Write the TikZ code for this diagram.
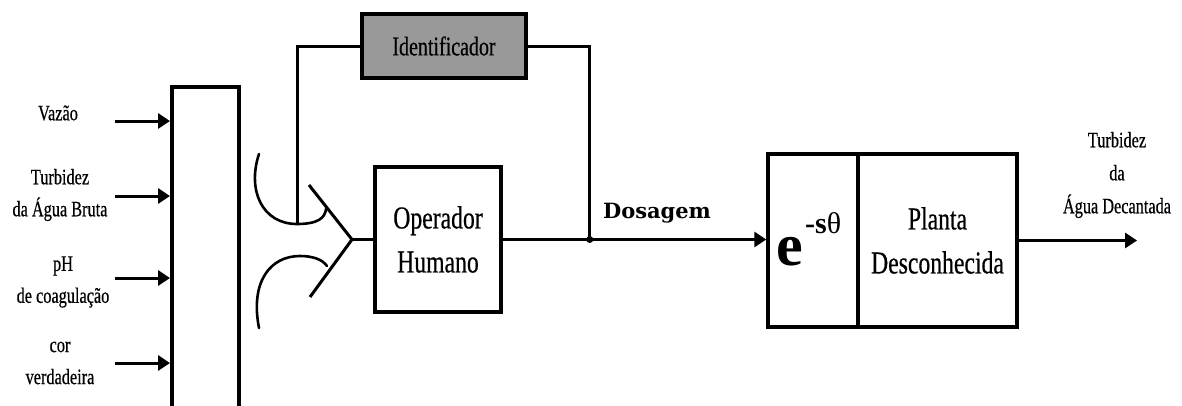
\documentclass[tikz,border=0pt]{standalone}
\usepackage{fontspec}
\setmainfont{Liberation Serif}
\newfontfamily\cnd[FakeStretch=0.74,FakeBold=0.5]{Liberation Serif}
\newfontfamily\dvs{DejaVu Serif}
\usetikzlibrary{arrows.meta}
\definecolor{idgray}{HTML}{999999}

\begin{document}
\begin{tikzpicture}[x=1pt,y=-1pt,
  wire/.style={line width=3pt},
  arr/.style={wire,-{Triangle[length=12pt,width=15pt]}},
  curve/.style={line width=2.6pt,line cap=round},
  blk/.style={draw,line width=3.5pt,inner sep=0pt},
  lbl/.style={font=\cnd\fontsize{22}{32}\selectfont,align=center},
  rlbl/.style={font=\cnd\fontsize{22}{33}\selectfont,align=center},
  big/.style={font=\cnd\fontsize{32}{44}\selectfont,align=center},
]
\useasboundingbox (0,0) rectangle (1182,405);

% input collector (runs past the lower edge)
\node[blk,minimum width=67pt,minimum height=340pt,anchor=north west] (mux) at (170,85) {};

% input signals
\coordinate (s1) at (115,121);
\coordinate (s2) at (115,196);
\coordinate (s3) at (115,278);
\coordinate (s4) at (115,363);
\foreach \s in {s1,s2,s3,s4}
  \draw[arr] (\s) -- (\s -| mux.west);
\node[lbl] (l1) at (58,113) {Vazão};
\node[lbl] (l2) at (60,195) {Turbidez\\da Água Bruta};
\node[lbl] (l3) at (63,282) {pH\\de coagulação};
\node[lbl] (l4) at (60,363) {cor\\verdadeira};

% blocks
\node[blk,fill=idgray,minimum width=164pt,minimum height=64pt,
      font=\cnd\fontsize{27}{30}\selectfont] (id) at (444,46) {Identificador};
\node[blk,minimum width=126pt,minimum height=145pt,big] (op) at (438,239.5) {Operador\\Humano};
\node[blk,minimum width=90pt,minimum height=173pt] (dly) at (813,240.5) {};
\node[blk,minimum width=159pt,minimum height=173pt,big] (plant) at (937.5,240.5) {Planta\\Desconhecida};

% dead-time term
\node[font=\bfseries\fontsize{60}{60}\selectfont,anchor=base west,inner sep=0pt] (ee) at (776,265) {e};
\node[font=\fontsize{30}{30}\selectfont,anchor=base west,inner sep=0pt] (ex) at (805,233) {\textbf{-s}θ};

% human sensing symbol
\coordinate (vt) at (352,239.5);
\coordinate (vu) at (309,185);
\coordinate (vl) at (310,297);
\draw[wire] (vu) -- (vt) -- (vl);
\draw[wire] (vt) -- (op.west);
\coordinate (eb) at (297,224);
\draw[curve] (259,154) .. controls (247,190) and (262,224) .. (eb)
  .. controls (318,224) and (325,218) .. (326,209);
\draw[curve] (327,266) .. controls (322,259) and (312,256) .. (300,256)
  .. controls (270,256) and (250,282) .. (259,328);

% main path
\coordinate (j) at ([xshift=87pt]op.east);
\draw[wire] (op.east) -- (j);
\draw[arr] (j) -- (j -| dly.west);
\fill (j) circle (3.5pt);
\node[font=\dvs\bfseries\fontsize{21}{24}\selectfont] (dos) at (657,213) {Dosagem};

% identifier loop
\draw[wire] (id.west) -| (eb);
\draw[wire] (id.east) -| (j);

% output
\coordinate (out) at (1137,240.5);
\draw[arr] (plant.east) -- (out);
\node[rlbl] (ol) at (1117,175) {Turbidez\\da\\Água Decantada};
\end{tikzpicture}
\end{document}
